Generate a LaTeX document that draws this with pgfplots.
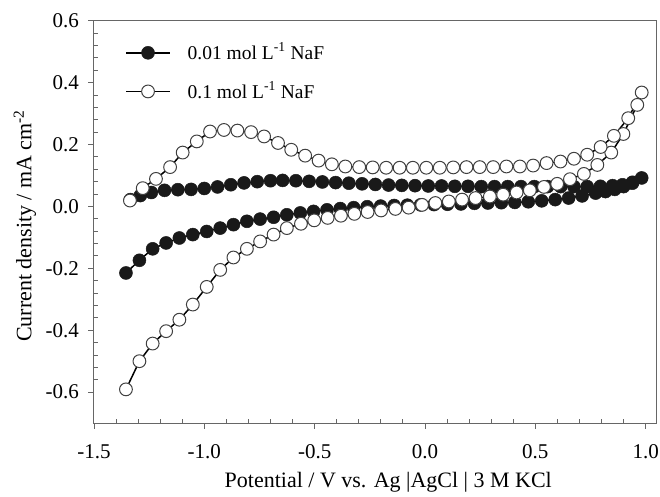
\documentclass[border=0pt]{standalone}
\usepackage{fontspec}
\setmainfont{Liberation Serif}
\usepackage{pgfplots}
\pgfplotsset{compat=1.18}
\pgfplotstableread{
x y
-1.355 -0.215
-1.294 -0.174
-1.234 -0.137
-1.173 -0.118
-1.113 -0.102
-1.052 -0.091
-0.989 -0.081
-0.928 -0.070
-0.868 -0.059
-0.807 -0.048
-0.747 -0.041
-0.686 -0.035
-0.626 -0.027
-0.565 -0.021
-0.505 -0.016
-0.444 -0.011
-0.384 -0.007
-0.323 -0.004
-0.262 -0.001
-0.201 0.001
-0.140 0.003
-0.080 0.004
-0.020 0.005
0.041 0.006
0.102 0.007
0.163 0.008
0.224 0.010
0.285 0.011
0.346 0.012
0.407 0.013
0.468 0.015
0.529 0.018
0.590 0.022
0.651 0.027
0.712 0.034
0.773 0.043
0.818 0.048
0.860 0.055
0.900 0.064
0.940 0.075
0.982 0.092
0.940 0.078
0.895 0.070
0.850 0.067
0.795 0.065
0.735 0.064
0.675 0.064
0.615 0.064
0.555 0.064
0.495 0.064
0.435 0.064
0.375 0.064
0.315 0.064
0.255 0.064
0.195 0.065
0.135 0.065
0.075 0.066
0.015 0.066
-0.045 0.067
-0.105 0.068
-0.165 0.069
-0.225 0.071
-0.285 0.073
-0.345 0.075
-0.405 0.077
-0.465 0.079
-0.525 0.081
-0.585 0.083
-0.645 0.084
-0.700 0.083
-0.760 0.080
-0.820 0.076
-0.880 0.070
-0.940 0.063
-1.000 0.058
-1.060 0.055
-1.120 0.054
-1.180 0.052
-1.240 0.045
-1.290 0.035
-1.335 0.022
}\lowconc
\pgfplotstableread{
x y
-1.355 -0.591
-1.294 -0.500
-1.234 -0.443
-1.173 -0.403
-1.113 -0.366
-1.052 -0.317
-0.989 -0.260
-0.928 -0.205
-0.868 -0.165
-0.807 -0.137
-0.747 -0.113
-0.686 -0.091
-0.626 -0.070
-0.562 -0.056
-0.502 -0.045
-0.441 -0.037
-0.381 -0.030
-0.320 -0.024
-0.260 -0.018
-0.199 -0.013
-0.134 -0.008
-0.074 -0.004
-0.013 0.005
0.047 0.011
0.108 0.016
0.168 0.022
0.229 0.027
0.294 0.032
0.354 0.038
0.415 0.045
0.475 0.052
0.539 0.063
0.599 0.073
0.657 0.088
0.720 0.105
0.781 0.134
0.844 0.174
0.899 0.234
0.962 0.328
0.982 0.368
0.921 0.285
0.856 0.228
0.796 0.192
0.735 0.167
0.675 0.154
0.614 0.145
0.551 0.140
0.490 0.132
0.430 0.129
0.369 0.129
0.309 0.127
0.248 0.127
0.188 0.127
0.128 0.126
0.067 0.125
0.006 0.125
-0.055 0.125
-0.115 0.125
-0.176 0.125
-0.237 0.126
-0.298 0.127
-0.361 0.129
-0.422 0.136
-0.482 0.148
-0.543 0.164
-0.606 0.183
-0.666 0.205
-0.729 0.226
-0.788 0.240
-0.850 0.245
-0.911 0.247
-0.974 0.242
-1.034 0.210
-1.098 0.174
-1.155 0.127
-1.219 0.089
-1.279 0.059
-1.337 0.019
}\highconc
\begin{document}
\fontsize{21bp}{25bp}\selectfont
\begin{tikzpicture}
\begin{axis}[
  scale only axis, width=563bp, height=402.6bp,
  xmin=-1.5, xmax=1.05, ymin=-0.7, ymax=0.6,
  xtick={-1.5,-1.0,-0.5,0,0.5,1.0},
  xticklabels={-1.5,-1.0,-0.5,0.0,0.5,1.0},
  ytick={-0.6,-0.4,-0.2,0,0.2,0.4,0.6},
  yticklabels={-0.6,-0.4,-0.2,0.0,0.2,0.4,0.6},
  minor x tick num=4, minor y tick num=4,
  xtick pos=left, ytick pos=left,
  tick align=inside,
  major tick length=-6bp, minor tick length=4bp,
  axis line style={black!60, line width=1bp},
  every tick/.style={black!60, line width=0.9bp},
  xticklabel style={yshift=-14bp},
  yticklabel style={xshift=-8bp},
  xlabel={Potential / V vs. Ag |AgCl | 3 M KCl},
  ylabel={Current density / mA cm\textsuperscript{-2}},
  label style={font=\fontsize{22bp}{26bp}\selectfont},
  x label style={at={(axis description cs:0.523,-0.148)}, anchor=center},
  y label style={at={(axis description cs:-0.1226,0.49)}, anchor=center},
  legend style={at={(axis description cs:0.05,0.955)}, anchor=north west, draw=none, fill=none,
    font=\fontsize{19.5bp}{23bp}\selectfont, row sep=15bp, column sep=15bp, cells={anchor=west}},
  legend image code/.code={\draw[mark repeat=2,mark phase=2,#1] plot coordinates {(0bp,0bp) (22bp,0bp) (44bp,0bp)};},
]
\addplot[black, line width=1.5bp, mark=*, mark size=6.5bp, mark options={fill=black!90, draw=black!90, line width=0.5bp}] table {\lowconc};
\addlegendentry{0.01 mol L\textsuperscript{-1} NaF}
\addplot[black, line width=1.5bp, mark=*, mark size=6.4bp, mark options={fill=white, draw=black!75, line width=1bp}] table {\highconc};
\addlegendentry{0.1 mol L\textsuperscript{-1} NaF}
\end{axis}
\pgfresetboundingbox
\path ([xshift=-94bp,yshift=-73.7bp]current axis.south west) rectangle ([xshift=3.3bp,yshift=20.7bp]current axis.north east);
\end{tikzpicture}
\end{document}
